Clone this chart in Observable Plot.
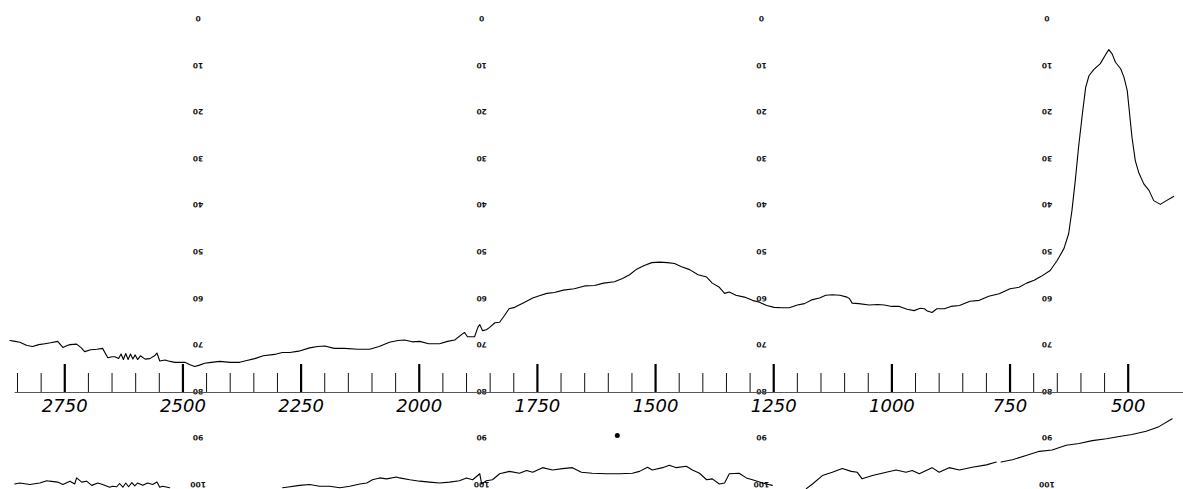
<!DOCTYPE html>
<html><head><meta charset="utf-8">
<script src="https://cdn.jsdelivr.net/npm/d3@7"></script>
<script src="https://cdn.jsdelivr.net/npm/@observablehq/plot@0.6"></script>
<style>html,body{margin:0;padding:0;background:#fff;overflow:hidden;} svg{display:block;}</style>
</head><body><div id="chart"></div>
<script>
// Upper spectrum: wavenumber (cm-1) and chart reading (0 top .. 100 bottom)
const mainWn = [2866,2855,2845,2830,2818,2805,2792,2780,2765,2754,2745,2739,2725,2715,2708,2695,2682,2670,2659,2650,2644,2636,2631,2626,2621,2616,2611,2606,2601,2596,2590,2580,2570,2560,2555,2549,2538,2527,2517,2505,2496,2485,2475,2465,2454,2440,2422,2400,2380,2365,2348,2330,2306,2290,2274,2255,2232,2215,2200,2180,2158,2130,2105,2085,2063,2045,2031,2015,1999,1980,1957,1940,1925,1910,1904,1898,1890,1883,1876,1872,1866,1858,1851,1840,1830,1820,1810,1798,1777,1760,1746,1730,1714,1695,1672,1650,1629,1610,1587,1570,1555,1540,1524,1508,1492,1475,1460,1445,1428,1410,1392,1380,1365,1354,1344,1330,1312,1295,1280,1265,1249,1233,1217,1200,1185,1170,1153,1140,1126,1110,1095,1090,1084,1070,1048,1030,1016,1000,984,968,953,940,931,925,915,905,889,875,857,835,815,795,773,750,731,715,699,685,665,650,636,626,619,612,605,597,590,583,573,559,548,541,534,527,516,509,502,497,492,485,478,467,456,446,432,421,404];
const mainT = [69.3,69.5,69.7,70.4,70.6,70.2,70.0,69.8,69.5,70.8,70.4,70.2,70.1,70.9,71.7,71.3,71.2,71.0,73.0,72.8,72.8,73.2,72.2,73.4,72.1,73.4,72.2,73.3,72.4,73.4,72.6,73.3,73.2,72.6,72.0,73.7,73.5,73.8,74.0,74.0,74.0,74.5,74.9,74.6,74.2,74.0,73.8,74.0,74.0,73.6,73.2,72.6,72.3,71.9,71.9,71.6,70.9,70.6,70.5,71.0,71.0,71.2,71.2,70.6,69.7,69.3,69.2,69.6,69.5,70.0,70.0,69.5,69.2,68.0,67.6,68.5,68.5,68.5,66.5,65.9,67.2,67.0,66.5,65.5,65.4,64.0,62.5,62.2,61.1,60.2,59.7,59.2,59.0,58.5,58.2,57.6,57.5,57.0,56.7,56.0,55.2,54.0,53.2,52.6,52.5,52.6,52.8,53.5,54.1,55.2,55.7,57.0,57.9,59.2,58.9,59.6,60.0,60.7,61.1,61.8,62.2,62.3,62.3,61.7,61.4,60.6,60.2,59.6,59.5,59.6,60.0,60.3,61.3,61.4,61.7,61.6,61.7,62.0,62.0,62.6,62.9,62.4,62.5,63.0,63.3,62.5,62.5,62.0,61.8,60.9,60.7,59.8,59.3,58.2,57.9,57.0,56.4,55.6,54.3,52.1,49.6,46.4,41.4,35.0,27.8,20.7,15.0,12.5,11.2,9.9,8.0,6.9,7.8,9.6,11.0,12.8,15.7,20.7,25.7,30.7,33.2,35.7,37.1,39.3,40.1,39.4,38.4];

// Lower spectrum (partly cut off at bottom), null = gap in trace
const lowerWn = [2856,2845,2824,2803,2788,2782,2765,2754,2739,2729,2725,2714,2704,2693,2680,2670,2655,2649,2640,2634,2627,2621,2615,2608,2602,2596,2585,2575,2564,2555,2549,2543,2528,2400,2289,2281,2253,2232,2211,2190,2168,2147,2126,2111,2099,2084,2069,2048,2042,2020,1999,1978,1957,1936,1915,1900,1887,1872,1868,1858,1845,1830,1809,1788,1773,1760,1739,1718,1697,1676,1657,1634,1604,1576,1549,1534,1517,1507,1485,1471,1456,1435,1422,1407,1392,1380,1365,1354,1344,1323,1308,1295,1280,1266,1253,1220,1181,1168,1147,1126,1105,1086,1073,1063,1041,1012,991,970,957,942,915,900,879,857,830,800,779,774,769,745,716,688,661,631,604,576,546,519,492,462,435,407];
const lowerT = [100.1,99.9,100.2,99.9,99.4,99.5,99.7,100.2,99.5,100.1,98.8,99.7,99.5,100.4,99.9,100.2,100.8,100.6,100.7,100.0,100.8,99.9,100.7,99.8,100.5,99.9,100.4,99.9,100.2,99.7,100.8,100.6,100.9,null,100.9,100.8,100.4,100.2,100.6,100.6,100.9,100.6,100.1,99.9,99.2,98.8,99.0,98.6,98.8,99.2,99.5,99.7,99.9,99.7,99.4,98.8,99.2,97.9,100.1,99.4,99.2,97.9,97.4,97.8,97.2,97.6,96.6,97.1,96.8,96.6,97.6,97.8,97.9,97.9,97.8,97.4,96.5,97.1,96.6,96.1,96.6,96.3,97.1,97.8,99.2,99.0,100.1,99.9,97.9,97.8,98.8,99.2,99.7,100.1,100.4,null,101.1,100.1,98.3,97.6,96.8,97.4,97.6,99.0,98.3,97.6,97.1,97.6,97.2,97.9,96.6,97.6,96.6,97.1,96.5,96.0,95.4,null,95.4,94.9,94.0,93.1,92.8,91.8,91.4,90.8,90.4,89.9,89.5,88.8,87.8,86.1];

// Wavenumber axis ticks
const majorTicks = [2750,2500,2250,2000,1750,1500,1250,1000,750,500];
const minorTicks = [2850,2800,2700,2650,2600,2550,2450,2400,2350,2300,2200,2150,2100,2050,1950,1900,1850,1800,1700,1650,1600,1550,1450,1400,1350,1300,1200,1150,1100,1050,950,900,850,800,700,650,600,550];

// Printed (inverted) percent scale columns on the chart paper
const scaleColumns = [2468,1868,1276,672];
const scaleValues = [0,10,20,30,40,50,60,70,80,90,100];
const markerDot = [{wn:1581, t:89.7}];

const axisLevel = 80.47, minorTop = 76.4, majorTop = 74.46;

const mainData = mainWn.map((w,i)=>({wn:w, t:mainT[i]}));
const lowerData = lowerWn.map((w,i)=>({wn:w, t:lowerT[i]}));
const scaleData = scaleColumns.flatMap(c => scaleValues.map(v => ({col:c, v})));

const chart = Plot.plot({
  width:1183, height:489, margin:0,
  x:{domain:[2886,383], range:[0,1183], axis:null},
  y:{domain:[0,100], range:[17,483], axis:null},
  style:{background:"#fff", color:"#000"},
  marks:[
    Plot.text(scaleData, {x:"col", y:"v", text:d=>String(d.v), rotate:180, dy:1,
      fontSize:7.5, fontWeight:"bold", fontFamily:"DejaVu Sans", fill:"#111"}),
    Plot.ruleY([axisLevel], {x1:2855, x2:383, stroke:"#555", strokeWidth:1}),
    Plot.ruleX(minorTicks, {x:d=>d, y1:axisLevel, y2:minorTop, stroke:"#111", strokeWidth:1}),
    Plot.ruleX(majorTicks, {x:d=>d, y1:axisLevel, y2:majorTop, stroke:"#000", strokeWidth:2.2}),
    Plot.text(majorTicks, {x:d=>d, y:axisLevel, dy:14, text:d=>String(d),
      fontSize:18, fontStyle:"italic", fontWeight:200, fontFamily:"DejaVu Sans", fill:"#000"}),
    Plot.line(mainData, {x:"wn", y:"t", stroke:"#000", strokeWidth:1.1}),
    Plot.line(lowerData, {x:"wn", y:"t", stroke:"#000", strokeWidth:1.1}),
    Plot.dot(markerDot, {x:"wn", y:"t", r:2.5, fill:"#000", stroke:null})
  ]
});
document.getElementById("chart").append(chart);
</script>
</body></html>
